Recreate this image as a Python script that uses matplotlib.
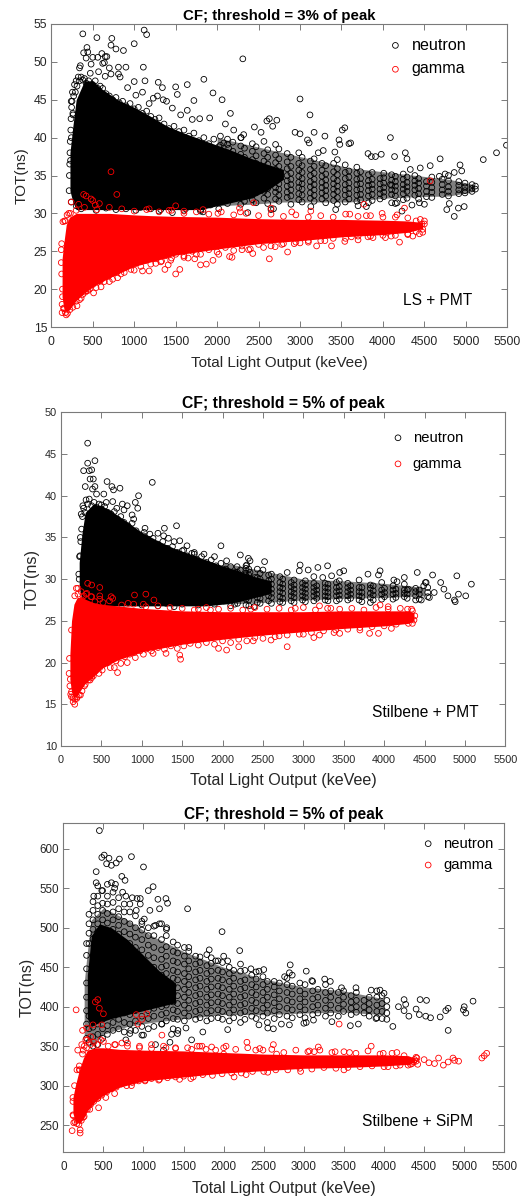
import matplotlib
matplotlib.use('Agg')
import matplotlib.pyplot as plt

plt.rcParams['font.family'] = ['Liberation Sans', 'DejaVu Sans']

# The clouds saturate: single rings cannot be told apart in the middle of them.
# *_solid_* is the outline of the fully inked region,
# *_halo_* the outline of the speckled region, rings are the readable points.

# panel A: LS + PMT
a_n_solid_x = [225,260,300,400,500,600,800,1000,1200,1400,1600,1800,2000,2200,2400,2600,2800]
a_n_solid_lo = [33,31.5,30.5,30.5,30.5,30.5,30.5,30.5,30.5,30.5,30.5,30.5,31,31.5,32,33,34.5]
a_n_solid_hi = [38,41.5,45,47.5,47.5,46.5,45,44,42.8,41.5,40.6,39.8,39,38.2,37.3,36.5,35.8]
a_n_halo_x = [2000,2400,2800,3200,3600,4000,4400,4800,5100]
a_n_halo_lo = [31,31.2,31.5,31.5,31.5,32,32.2,32.3,32.9]
a_n_halo_hi = [40,39,38,37,36,35.5,35,34.5,33.8]
a_n_band_x = [2040,2125,2190,2285,2330,2425,2470,2565,2610,2705,2745,2845,2890,2985,3025,3125,3170,3265,3310,3405,3450,3545,3590,3685,3730,3825,3870,3965,4010,4105,4150,4245,4290,4385,4430,4525,4590,4715,4790,4915,4990,5075,5115]
a_n_band_y = [
    [31.5,32.2,33,33.7,34.5,35.2,36,36.8,37.5,38.3,39,40.2],
    [31.3,32.4,33.2,34,34.8,35.6,36.3,37.1,38,39.1,39.8],
    [32,32.8,33.5,34.2,35,35.8,36.5,37.3,38.2,39.4],
    [31.2,32.3,33,33.8,34.6,35.3,36.1,37,37.8,38.9,40],
    [31.6,32.6,33.3,34.1,34.8,35.6,36.4,37.4,38.6],
    [31.8,32.4,33.2,33.9,34.7,35.5,36.2,37.1,38.2,39.2],
    [31.4,32.7,33.5,34.2,35,35.8,36.6,37.6,38.8],
    [32,32.9,33.6,34.4,35.1,35.9,36.9,37.9,39.5],
    [31.3,32.5,33.3,34,34.8,35.6,36.5,37.4,38.4],
    [31.9,32.8,33.4,34.2,35,35.8,36.7,37.7,39.1],
    [31.6,32.4,33.2,33.9,34.6,35.4,36.2,37.2,38.5],
    [32.1,32.8,33.6,34.3,35,35.9,36.8,37.9],
    [31.2,32.3,33.1,33.8,34.5,35.3,36.2,37.4],
    [31.8,32.6,33.4,34.1,34.9,35.7,36.6,38],
    [31.5,32.4,33.2,33.9,34.6,35.4,36.3,37.4],
    [32,32.7,33.5,34.2,35,35.8,36.9],
    [31.6,32.4,33.1,33.8,34.5,35.3,36.2,37.2],
    [31.9,32.7,33.4,34.1,34.9,35.7,36.6],
    [31.4,32.3,33,33.7,34.4,35.2,36.3],
    [31.7,32.5,33.2,33.9,34.6,35.5,36.6],
    [31.2,32.1,32.9,33.6,34.3,35.1,35.9,37.1],
    [31.5,32.4,33.1,33.8,34.6,35.4,36.4],
    [31.9,32.6,33.3,34,34.8,35.6],
    [31.6,32.4,33.1,33.8,34.5,35.3,36.1],
    [31.8,32.5,33.2,33.9,34.6,35.5],
    [31.4,32.3,33,33.7,34.3,35.1],
    [31.7,32.5,33.2,33.8,34.5,35.4],
    [31.9,32.6,33.2,33.9,34.6],
    [32.2,32.8,33.4,34,34.7,35.3],
    [31.4,32.5,33.1,33.7,34.4,35.1],
    [32.3,33,33.6,34.2,34.9],
    [31.8,32.6,33.2,33.8,34.5,35.2],
    [32,32.9,33.5,34.1,34.8],
    [32.4,33.1,33.7,34.3,35],
    [31.9,32.6,33.3,34,34.6],
    [32.2,32.9,33.6,34.2],
    [32.1,32.8,33.4,34.1,34.8],
    [32.5,33.1,33.8,34.5],
    [32.3,32.9,33.5,34.3,35],
    [32.6,33.1,33.7,34.2],
    [32.7,33,33.5,34],
    [32.9,33.3,33.8],
    [33.2,33.6],
]
a_n_x = [380,550,730,720,780,870,1000,1120,1150,430,390,440,420,610,650,670,560,500,350,340,480,620,640,700,810,900,1110,2310,570,650,720,810,830,1130,1000,1290,1840,1640,1500,1340,1950,2060,1520,1720,3000,3120,2160,2630,2720,2600,2670,1910,1790,1700,1640,1560,1460,1390,1350,1280,1230,1180,1100,1020,920,240,260,2200,2450,2530,2100,2290,2320,2940,3000,3170,3090,3110,3300,3280,3220,3480,3510,3540,3610,3590,3470,3420,4090,4140,4270,4290,3820,3980,3910,3860,4330,4450,4570,4690,4930,4950,4860,4750,4680,5210,5370,5490,4980,4860,4910,4770,4800,4350,4440,4500,4170,4090,4150,4230,3700,3800,2680,2370,2650,1300,1460,1600,1830,2020,1060,1800,3430,3130,
    215,218,222,225,228,232,235,238,242,245,
    250,255,262,270,280,290,300,310,325,340,
    360,380,400,420,450,470,500,530,560,590,
    620,660,700,740,780,820,860,900,950,1000,
    1050,1100,1150,1200,1250,1300,1360,1420,1480,1540,
    1600,1660,1720,1780,1840,1900,1960,2020,2080,2140,
    240,300,360,420,480,540,600,660,720,780,
    840,900,960,1020,1080,1140,1200,1260,1320,1380,
    1440,1500,1560,1620,1680,1740,1800,1860,1920,1980]
a_n_y = [53.7,53.2,53.1,52.2,51.7,51.5,52.4,54.2,53.6,51.9,51.2,51.3,50.5,51.1,50.7,50.7,50.6,50.6,49.5,49.2,49.7,49.8,49.9,49.2,49.3,49.3,49.3,50.4,48.7,48.1,48.4,48.4,48,47.5,47.4,47.3,47.7,47,46.7,46.6,45.9,45,45.7,44.9,45.1,43,43.2,42.5,42.3,42.2,41.5,42.6,42.5,42.4,43.6,43,43.9,44.8,45,45.5,45.2,44.5,46,45.6,46.6,44.8,43.2,41,41.4,40.7,41.8,40,40.4,40.7,40.5,40.7,39.7,39.3,40.2,38.3,38,39.1,41,41.3,39.3,39.2,39.7,38.1,40,37.5,38,37.2,37.9,37.8,37.5,37.5,35.8,36,36.3,37.2,36.4,35.6,35.4,35.2,34.9,37.1,38,39,30.9,29.6,30.7,30.5,31.3,31.1,31.4,31.2,31.4,33.8,31.3,30.3,31,30.9,30.6,30.1,30.5,30.3,30.1,30.4,30.2,30.6,30.8,30.3,30.5,30.9,
    33,35,36.5,38,39.5,37,41,42.5,40,44,
    44.8,46,43,45.5,47,46,47.5,46.8,48,47.5,
    48,47.6,47.8,47.2,47.5,48.5,47,47.5,46.5,46.8,
    46.5,45.8,45.5,45,45.3,44.6,44.8,44.2,44.5,43.8,
    44,43.2,43.5,42.8,42.4,42.6,41.8,41.2,41.5,40.8,
    41,40.2,40.6,39.6,40,39.2,39.8,38.8,39.3,38.6,
    31.5,31,30.6,30.9,31.2,30.4,31,30.7,31.1,30.5,
    30.9,30.6,31,30.4,30.8,31.2,30.6,31,30.5,31.2,
    31.3,30.9,31.4,30.6,31.5,31,30.5,31.4,31.1,31.6]

a_g_solid_x = [130,150,180,220,300,400,500,700,1000,1200,1500,2000,2500,3000,3500,4000,4300,4480]
a_g_solid_lo = [19,17.5,17,17.3,18.5,19.5,20.3,21.5,23,23.6,24.5,25.3,26,26.4,26.9,27.2,27.5,28]
a_g_solid_hi = [24,26,28.5,29.5,30,30,30,30,29.8,29.7,29.6,29.5,29.3,29.2,29.2,29.1,29,28.8]
a_g_x = [180,130,150,310,360,130,410,510,440,600,700,800,880,1000,1100,1180,1370,1500,1550,1410,1800,1870,1950,2150,2180,2430,2630,2850,3200,3380,3700,4200,4480,720,790,390,420,480,500,240,330,580,530,2440,1500,4570,3770,4260,2270,2280,1830,3130,2650,3990,1650,1730,2020,2380,2700,2930,3100,3540,3880,4030,4360,4440,4470,4500,120,125,135,1260,1330,1450,1600,1750,2300,2560,2780,3000,3300,3620,3820,4100,4300,1180,1420,1600,210,170,140,2010,2900,3600,3800,4170,
    135,150,170,195,225,260,300,340,380,420,
    460,500,540,590,640,690,740,790,840,900,
    960,1020,1080,1140,1200,1260,1320,1380,1440,1500,
    1600,1700,1800,1900,2000,2100,2200,2300,2400,2500,
    2650,2800,2950,3100,3250,3400,3550,3700,3850,4000,
    4150,4300,4400,4480,4500,4450,4400,4300,4150,4000,
    3850,3700,3550,3400,3250,3100,2950,2800,2650,2500,
    2350,2200,2050,1900,1750,1600,1450,1300,1150,1000,
    850,700,550,400,300,230,190,160,125,120]
a_g_y = [16.6,16.9,17.4,17.8,18.8,18,19.6,19.5,19.8,20.3,21,21.5,22.2,22.5,22.4,22.4,22.6,22,22.6,23.2,23.2,23.3,23.8,24.3,24.2,24.7,24,24.9,25.7,25.7,26.5,26.2,27.5,35.5,32.5,32.5,32.3,31.9,31.7,31.5,31.2,31.3,31.1,31.4,31,34.3,31.2,30.7,30.7,30.2,30.5,30.3,30.7,30,24.1,24,24.6,25.2,25.6,26,26.2,26.3,26.8,26.8,27,27.3,28.6,29,25.2,22,20,23.4,23.7,24.1,24.4,24.6,25.2,25.5,25.9,26.1,26.4,26.9,26.9,27,27.2,30.6,30.4,30.3,30,29,28.9,30,30.2,29.9,29.7,29.8,
    19,17.5,16.9,16.8,17.3,17.6,18.4,18.6,19.3,19.8,
    20,20.6,20.2,21.1,21,21.7,21.3,22.2,22,22.9,
    22.6,23.4,23,23.8,23.3,24,23.6,24.4,23.8,24.6,
    24.2,25,24.6,25.2,24.9,25.5,25.1,25.7,25.3,25.9,
    25.7,26,26.2,26.4,26.4,26.7,26.7,27,27,27.1,
    27.1,27.3,27.6,27.9,28.6,29.2,29,29.4,29.5,29.5,
    29.7,29.6,29.9,29.5,29.7,29.5,29.8,29.6,29.9,29.7,
    30,29.8,30.2,29.9,30.2,30,30.4,30.2,30.5,30.3,
    30.6,30.8,30.5,30.8,30.4,30,29.8,29,26,23.5]

# panel B: Stilbene + PMT
b_n_solid_x = [225,260,300,400,500,600,800,1000,1200,1400,1600,1800,2000,2200,2400,2600]
b_n_solid_lo = [29,27.5,26.8,26.8,26.8,26.8,26.8,26.8,26.8,26.8,26.8,26.8,27,27.3,27.8,28.3]
b_n_solid_hi = [32,35.5,38,39,38.8,38.3,37,35.6,34.6,33.7,33,32.3,31.6,31,30.3,29.8]
b_n_halo_x = [2000,2500,3000,3500,4000,4500]
b_n_halo_lo = [27,27.2,27.5,27.7,27.8,28]
b_n_halo_hi = [32,31,30,29.8,29.5,29]
b_n_band_x = [2185,2290,2325,2430,2465,2570,2605,2710,2745,2850,2885,2990,3025,3130,3165,3270,3305,3410,3445,3550,3585,3690,3725,3830,3865,3970,4005,4110,4145,4250,4285,4390,4435,4540]
b_n_band_y = [
    [27.1,27.7,28.3,28.9,29.5,30.1,30.8],
    [26.9,27.6,28.2,28.8,29.4,30,30.7,31.3],
    [26.8,27.5,28.1,28.7,29.3,29.9,30.5,31.2],
    [27.2,27.8,28.4,29,29.6,30.2],
    [27.1,27.7,28.3,28.8,29.4,30,30.7],
    [27.4,28,28.6,29.2,29.8,30.5],
    [27.1,27.8,28.3,28.8,29.4,30,30.6],
    [27.3,27.9,28.5,29,29.6,30.3],
    [27.2,27.7,28.3,28.9,29.4,30],
    [27.4,28,28.5,29.1,29.6],
    [27.2,27.8,28.3,28.8,29.3,29.9],
    [27.5,28,28.5,29,29.5],
    [27.3,27.8,28.3,28.8,29.3,29.8],
    [27.4,28,28.5,29,29.5],
    [27.7,28.2,28.7,29.2],
    [27.5,28,28.5,29,29.5],
    [27.4,27.9,28.4,28.9,29.4],
    [27.4,28,28.5,29,29.6],
    [27.6,28.1,28.6,29.1,29.8],
    [27.5,28,28.5,29,29.5],
    [27.7,28.2,28.7,29.2],
    [27.5,28,28.5,29,29.9],
    [27.3,27.9,28.4,29],
    [27.2,27.8,28.3,28.9,29.3],
    [27.5,28.1,28.6,29.2],
    [27.6,28.2,28.7,29.6],
    [27.9,28.4,28.9],
    [27.6,28.2,28.7,29.2],
    [27.8,28.3,28.8],
    [27.9,28.3,28.7],
    [27.7,28.2,28.7],
    [27.5,28,28.5,28.9],
    [27.6,28.2,28.7],
    [27.9,28.4,29],
]
b_n_x = [330,330,280,420,350,380,360,400,570,1130,300,630,650,730,420,390,960,530,440,920,950,820,760,640,560,500,690,270,250,780,880,900,1430,1280,1040,1270,1100,1200,1470,1400,1560,1980,2220,2520,2320,2340,2300,2050,1900,1770,1650,2960,3300,3180,3060,2950,2800,2430,2500,3500,3450,4410,3950,3930,3800,4250,4600,4900,5080,4700,4520,4620,4740,4790,4870,4880,4920,5010,4560,4250,4120,4160,4300,4490,4510,4460,3350,3240,3130,230,220,240,1020,1330,1520,1650,2180,2290,2390,2100,2150,1200,
    225,235,245,255,265,280,295,310,330,350,
    380,410,440,470,500,540,580,620,660,700,
    740,780,830,880,930,980,1030,1080,1140,1200,
    1260,1320,1380,1440,1500,1560,1620,1680,1740,1800,
    1860,1920,1980,2040,2100,2160,2220,2280,2340,2400,
    1000,1100,1200,1300,1400,1500,1600,1700,1800,1900]
b_n_y = [46.3,43.9,43,44.2,43,43.1,42,42,41.7,41.6,41.1,41.1,40.7,40.9,41.1,40.8,40,40.2,40.2,39.2,38.5,38.8,39,39.3,39.2,38.9,38.5,38.8,37.8,38.3,37.7,37.2,36.4,36.1,36.1,35.2,35.4,35.5,34.6,34.5,34,34,32.9,32.1,32.5,32.2,31.7,32.2,32.7,33,33.2,31.7,31.6,31.4,31.1,31,30.8,31.2,31.1,31,30.8,30.8,31,30.5,30.6,30.2,30.5,30.4,29.4,29.6,29.6,28.4,28.8,28,27.5,27.3,28.2,28,27.8,29.4,29.9,29.7,28.8,29.2,29.6,27.5,30.4,30.2,30.3,32.7,30.6,35,35.2,34.9,33.5,33,31.5,31.6,26.7,26.8,27,27.3,
    30,32.8,34.5,36,37.5,38.5,38,39.5,39,39.6,
    38.8,39.2,38.6,39,38.4,38.7,38,37.8,38.1,37.2,
    37.5,36.8,36.4,36.7,35.8,35.3,35.6,34.8,34.9,34.2,
    34.5,33.7,33.9,33.2,33.4,32.8,33.1,32.4,32.7,32,
    32.3,31.6,31.9,31.2,31.5,30.8,31.1,30.5,30.8,30.2,
    26.9,27.2,26.8,27.1,26.7,27,27.3,26.9,27.2,27]

b_g_solid_x = [110,130,160,200,250,300,400,500,700,1000,1500,2000,2500,3000,3500,4000,4300,4370]
b_g_solid_lo = [18,16.5,15.8,16,16.8,17.5,18.3,19.3,20.3,21.3,22.2,22.8,23.3,23.7,24.1,24.4,24.7,25]
b_g_solid_hi = [21,25,27,27.8,27.8,27.6,27.2,27,26.8,26.5,26.2,26.1,26.1,26.1,26.2,26.2,26.2,26]
b_g_x = [170,150,130,120,110,100,105,130,200,240,290,360,400,470,510,610,660,700,740,820,920,1020,1140,1480,1470,1300,1950,2050,2200,2380,2600,2800,3130,3200,3380,3450,3930,4090,4350,4370,4380,4340,3000,3700,2700,3820,310,330,380,250,190,210,480,620,640,480,910,1050,1150,830,1020,320,370,260,420,520,3200,3950,4050,1700,1850,2350,2900,3340,4290,4350,
    115,130,150,170,195,225,260,300,340,380,
    430,480,530,580,630,680,730,790,850,910,
    980,1050,1120,1200,1280,1360,1440,1520,1600,1700,
    1800,1900,2000,2100,2200,2300,2400,2500,2650,2800,
    2950,3100,3250,3400,3550,3700,3850,4000,4150,4300,
    4200,4050,3900,3750,3600,3450,3300,3150,3000,2850,
    2700,2550,2400,2250,2100,1950,1800,1650,1500,1350,
    1200,1050,900,750,600,480,380,280,210,170]
b_g_y = [15,15.3,15.9,16.2,17.2,18.7,20.5,23.9,15.9,16.1,17.2,17.9,18.4,18.7,19.1,19.4,19.4,18.8,19.9,20,20.6,21,21.1,20.4,20.9,21.1,21.7,21.5,21.9,22.6,22.7,21.9,23,23.3,23.6,23.5,23.5,24.1,24.7,25.1,25.6,26.4,23.4,23.9,23.2,23.5,28.2,29.5,29.3,28.5,28.9,28.9,29,27.9,27.7,28,28.1,28.2,27.5,27.1,27,28.3,27.9,27.5,27.3,27.2,26.8,26.9,26.7,26.4,26.3,26.4,26.5,26.5,26.4,26.2,
    18,16.5,15.8,15.6,15.7,16.1,16.6,17.4,17.9,18.2,
    19,19.4,19.8,20,20.4,20.2,20.8,20.7,21,21.2,
    21.4,21.6,21.4,21.8,21.6,22,21.7,22,22.3,22.1,
    22.4,22.2,22.6,22.4,22.8,22.6,23,22.9,23.1,23.3,
    23.4,23.6,23.8,23.9,24,24.2,24.3,24.4,24.6,24.7,
    26.5,26.4,26.6,26.3,26.5,26.4,26.5,26.3,26.6,26.3,
    26.5,26.4,26.6,26.3,26.5,26.4,26.6,26.3,26.5,26.6,
    26.8,26.7,27,26.9,27.4,27.6,27.9,28,28.2,28]

# panel C: Stilbene + SiPM
c_n_solid_x = [300,350,450,600,800,1000,1200,1400]
c_n_solid_lo = [385,375,380,385,390,395,400,405]
c_n_solid_hi = [440,490,505,500,485,465,445,430]
c_n_halo_x = [260,300,350,500,800,1100,1500,2000,2500,3000,3500,4000]
c_n_halo_lo = [365,360,350,365,375,380,385,390,390,392,393,390]
c_n_halo_hi = [430,470,510,525,510,490,470,450,435,425,420,410]
c_n_band_x = [290,320,370,430,490,550,620,690,760,830,900,980,1060,1130,1225,1285,1370,1425,1510,1565,1650,1705,1790,1845,1930,1985,2070,2125,2210,2265,2350,2405,2490,2545,2630,2695,2790,2855,2950,3015,3110,3175,3270,3335,3430,3495,3590,3655,3750,3815,3910,3975,4035]
c_n_band_y = [
    [360,378,395,412,430,448,465,480],
    [355,372,388,480,493,505,517],
    [350,362,374,486,498,510,522,533],
    [352,365,378,495,505,517,528,540],
    [360,372,384,498,510,522,531,547],
    [365,376,388,495,506,518,530,540],
    [370,380,487,498,510,520,532,545],
    [372,384,395,480,492,503,514,524,538],
    [368,380,392,470,482,495,508,520,530],
    [366,378,390,455,468,480,492,505,520,530],
    [370,382,395,450,462,475,488,500,515],
    [364,375,388,400,448,460,472,485,497,505],
    [372,385,395,405,440,452,465,478,490,500],
    [375,388,398,408,418,428,438,450,462,475,490,502],
    [378,390,400,410,420,430,440,450,460,472,485,505],
    [382,392,402,412,422,432,442,452,464,476,490,498],
    [372,385,396,406,416,426,436,446,458,470,482],
    [366,384,394,404,414,424,434,444,456,468,478],
    [382,392,402,412,422,432,442,454,464,475],
    [388,398,408,418,428,438,448,458,470,475],
    [384,394,404,414,424,434,444,454,464],
    [386,396,406,416,426,436,446,456,463],
    [382,392,402,412,422,432,442,452,466],
    [385,395,405,415,425,435,445,455,462],
    [386,396,406,416,426,436,446,458],
    [384,394,404,414,424,434,444,456],
    [382,392,402,412,422,432,442,450],
    [386,396,406,416,426,436,446],
    [380,392,402,412,422,432,445],
    [384,394,404,414,424,434,446],
    [388,398,408,418,428,440],
    [385,395,405,415,425,435,444],
    [388,398,408,418,428,438],
    [380,392,402,412,422,432],
    [385,395,405,415,425,432],
    [390,400,410,420,430],
    [388,398,408,418,428,436],
    [386,396,406,416,426,440],
    [390,400,410,420,430],
    [386,396,406,416,428],
    [390,400,410,420,432],
    [392,402,412,422],
    [388,398,408,418,428],
    [392,402,412,420],
    [388,398,408,418],
    [394,403,412,420],
    [390,398,406,414],
    [393,400,408,418],
    [392,400,408],
    [388,396,404,412],
    [386,394,402,412,420],
    [385,394,404,414],
    [384,392,400,408],
]
c_n_x = [450,510,480,570,700,660,850,540,1000,410,600,730,770,410,550,600,650,640,430,380,480,740,780,1060,1120,1180,1280,1300,1200,1550,1080,920,960,860,960,910,980,1010,1150,1200,1290,1980,2200,1820,2000,2050,2210,1900,2340,2830,2440,2500,3030,2820,2760,3260,3330,3100,3650,3470,3840,3950,4000,4110,4800,5110,5000,4990,5020,4800,4700,4770,4580,4520,4450,4530,4250,4270,4180,4250,4310,4400,4440,1740,1530,1600,1330,1350,1430,2050,2550,2620,2440,2820,2720,3350,3580,3680,3030,3120,3000,1230,1000,840,780,1150,1250,3900]
c_n_y = [623,592,589,588,587,582,590,581,577,571,579,565,560,557,555,557,555,550,553,540,547,545,540,547,552,536,537,531,524,524,522,537,537,538,530,522,508,511,503,505,500,495,471,472,464,458,454,458,448,453,445,447,445,443,438,435,432,433,424,424,421,421,417,375,370,407,400,396,392,398,387,395,386,388,409,408,409,403,400,395,388,397,390,368,373,358,355,365,370,371,373,372,377,377,378,381,376,378,380,383,379,378,364,370,358,352,345,385]

c_g_solid_x = [120,150,200,250,300,400,500,700,1000,1500,2000,2500,3000,3500,4000,4300,4380]
c_g_solid_lo = [265,255,252,258,268,280,288,298,306,311,316,319,322,323,325,327,330]
c_g_solid_hi = [285,300,320,335,345,348,348,346,345,344,342,340,339,339,339,338,335]
c_g_x = [160,430,400,450,500,370,480,910,1040,930,980,3440,1230,2290,2620,3180,3840,2030,1670,1730,240,290,340,280,180,250,5280,5250,5220,4930,4860,4880,4800,4740,4680,4630,4560,4500,4410,4420,4350,4300,110,210,210,130,170,120,120,250,440,330,430,530,640,850,1020,1190,1450,1590,2130,2280,2550,2960,3500,4050,4300,4200,4330,4380,4400,560,640,730,800,950,1100,1280,1400,1600,1780,1900,2400,2490,3070,3130,3390,3570,3990,4160,260,230,205,380,470,200,300,2660,2000,
    125,145,170,195,225,260,300,340,380,430,
    480,540,600,660,720,790,860,940,1020,1100,
    1200,1300,1400,1500,1620,1740,1860,1980,2100,2220,
    2360,2500,2650,2800,2950,3100,3250,3400,3550,3700,
    3850,4000,4150,4300,4370,4400,4250,4100,3950,3800,
    3650,3500,3350,3200,3050,2900,2750,2600,2450,2300,
    2150,2000,1850,1700,1550,1400,1250,1100,950,800,
    650,500,420,340,290,240,200,170,140,120]
c_g_y = [396,409,406,398,391,377,377,390,391,378,384,378,364,355,352,349,350,350,350,350,370,373,362,358,345,345,341,338,335,331,335,332,330,326,335,328,329,333,335,327,328,330,243,244,240,253,256,263,285,260,272,270,284,285,290,300,306,307,308,309,311,314,317,318,320,324,330,326,327,333,331,350,352,354,350,348,347,348,348,346,346,345,345,345,344,343,343,342,341,342,350,352,320,355,358,320,358,340,340,
    262,254,252,251,256,261,270,276,280,284,
    288,292,296,298,302,300,304,306,307,309,
    308,310,311,312,311,314,313,315,316,316,
    318,318,320,320,322,321,323,322,323,324,
    325,324,325,326,330,336,338,341,340,344,
    341,343,342,345,343,345,342,346,347,348,
    346,348,349,350,348,347,350,352,350,354,
    352,356,352,352,348,340,325,320,300,280]

panel_titles = ['CF; threshold = 3% of peak', 'CF; threshold = 5% of peak', 'CF; threshold = 5% of peak']
panel_notes = ['LS + PMT', 'Stilbene + PMT', 'Stilbene + SiPM']
x_ticks = [0,500,1000,1500,2000,2500,3000,3500,4000,4500,5000,5500]
a_y_ticks = [15,20,25,30,35,40,45,50,55]
b_y_ticks = [10,15,20,25,30,35,40,45,50]
c_y_ticks = [250,300,350,400,450,500,550,600]

def flatten(xs, ycols):
    outx, outy = [], []
    for x, ys in zip(xs, ycols):
        for y in ys:
            outx.append(x)
            outy.append(y)
    return outx, outy

def draw_rings(ax, color, xs, ys, label):
    ax.scatter(xs, ys, s=17, facecolors='none', edgecolors=color, linewidths=0.6)
    ax.scatter([], [], s=17, facecolors='none', edgecolors=color, linewidths=0.6, label=label)

def draw_neutron(ax, halo, solid, band_x, band_y, xs, ys):
    ax.fill_between(halo[0], halo[1], halo[2], color='black', alpha=0.5, linewidth=0)
    ax.fill_between(solid[0], solid[1], solid[2], color='black', linewidth=0)
    bx, by = flatten(band_x, band_y)
    draw_rings(ax, 'black', bx + xs, by + ys, 'neutron')

def draw_gamma(ax, solid, xs, ys):
    ax.fill_between(solid[0], solid[1], solid[2], color='red', linewidth=0)
    draw_rings(ax, 'red', xs, ys, 'gamma')

W, H = 522.0, 1196.0
fig = plt.figure(figsize=(W/100, H/100), dpi=100)
box_color = '#7a7a7a'
text_color = '#262626'

def make_axes(left, right, top, bottom):
    return fig.add_axes([left/W, 1-bottom/H, (right-left)/W, (bottom-top)/H])

def style(ax, ylim, yticks, title, note, tick_fs, label_fs, title_fs, note_xy, leg_fs, leg_anchor, leg_space):
    ax.set_xlim(0, 5500)
    ax.set_ylim(*ylim)
    ax.set_xticks(x_ticks)
    ax.set_yticks(yticks)
    ax.tick_params(direction='in', top=True, right=True, length=4, width=0.7, color=box_color,
                   labelsize=tick_fs, labelcolor=text_color)
    ax.tick_params(axis='x', pad=6.5)
    ax.tick_params(axis='y', pad=3)
    for s in ax.spines.values():
        s.set_color(box_color)
        s.set_linewidth(0.8)
    ax.set_title(title, fontsize=title_fs, fontweight='bold', color='black', pad=3)
    ax.set_xlabel('Total Light Output (keVee)', fontsize=label_fs, color=text_color, labelpad=5.5)
    ax.set_ylabel('TOT(ns)', fontsize=label_fs, color=text_color, labelpad=3.5)
    ax.text(note_xy[0], note_xy[1], note, fontsize=11.2, color='black', transform=ax.transAxes, ha='right', va='center')
    ax.legend(loc='upper right', bbox_to_anchor=leg_anchor, frameon=False, fontsize=leg_fs,
              handletextpad=0, labelspacing=leg_space, borderpad=0, borderaxespad=0)

ax1 = make_axes(51.3, 507.3, 24, 327)
draw_neutron(ax1, (a_n_halo_x, a_n_halo_lo, a_n_halo_hi), (a_n_solid_x, a_n_solid_lo, a_n_solid_hi), a_n_band_x, a_n_band_y, a_n_x, a_n_y)
draw_gamma(ax1, (a_g_solid_x, a_g_solid_lo, a_g_solid_hi), a_g_x, a_g_y)
style(ax1, (15, 55), a_y_ticks, panel_titles[0], panel_notes[0], 8.8, 11, 10.8, (0.924, 0.087), 11.6, (0.91, 0.955), 0.55)

ax2 = make_axes(61, 505.3, 412.3, 746)
draw_neutron(ax2, (b_n_halo_x, b_n_halo_lo, b_n_halo_hi), (b_n_solid_x, b_n_solid_lo, b_n_solid_hi), b_n_band_x, b_n_band_y, b_n_x, b_n_y)
draw_gamma(ax2, (b_g_solid_x, b_g_solid_lo, b_g_solid_hi), b_g_x, b_g_y)
style(ax2, (10, 50), b_y_ticks, panel_titles[1], panel_notes[1], 7.8, 11.6, 11.3, (0.94, 0.1), 10.6, (0.905, 0.945), 0.82)

ax3 = make_axes(63.3, 504.3, 822.7, 1152)
draw_neutron(ax3, (c_n_halo_x, c_n_halo_lo, c_n_halo_hi), (c_n_solid_x, c_n_solid_lo, c_n_solid_hi), c_n_band_x, c_n_band_y, c_n_x, c_n_y)
draw_gamma(ax3, (c_g_solid_x, c_g_solid_lo, c_g_solid_hi), c_g_x, c_g_y)
style(ax3, (216, 633), c_y_ticks, panel_titles[2], panel_notes[2], 8.4, 11.4, 11.2, (0.93, 0.092), 10.6, (0.975, 0.958), 0.5)

fig.savefig('out.png', dpi=100)
